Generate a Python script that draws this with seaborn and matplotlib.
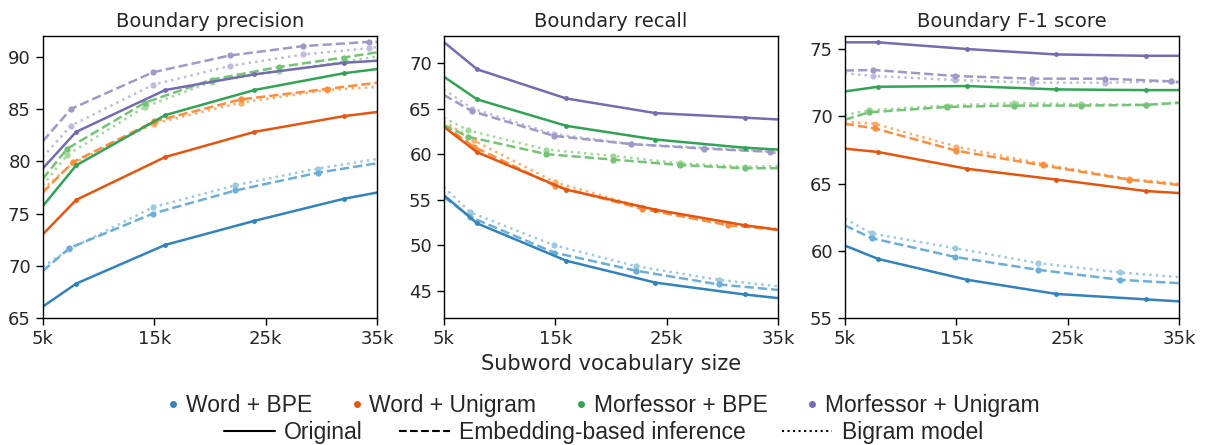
"""Boundary precision / recall / F-1 versus subword vocabulary size."""

import matplotlib
matplotlib.use("Agg")
import matplotlib.pyplot as plt
from matplotlib.lines import Line2D
from matplotlib.ticker import FuncFormatter
import seaborn as sns

sns.set_theme(style="ticks")
plt.rcParams["font.family"] = ["DejaVu Sans"]

# Vocabulary sizes (thousands); first/last entries sit on the axis edges
X_ORIG = [5, 8, 16, 24, 32, 35]
X_WORD_BPE = [5, 7.4, 14.9, 22.3, 29.7, 35]
X_WORD_UNI = [5, 7.7, 15.0, 22.8, 30.5, 35]
X_MORF_BPE = [5, 7.2, 14.2, 20.2, 26.2, 32.0, 35]
X_MORF_UNI = [5, 7.55, 14.9, 21.8, 28.4, 34.3, 35]

TOKENIZERS = ["Word + BPE", "Word + Unigram", "Morfessor + BPE", "Morfessor + Unigram"]
VARIANTS = ["Original", "Embedding-based inference", "Bigram model"]
PANEL_TITLES = ["Boundary precision", "Boundary recall", "Boundary F-1 score"]
Y_LIMITS = [(65, 92), (42, 73), (55, 76)]
X_TICKS = [5, 15, 25, 35]

# Boundary precision
PREC_WB_ORIG = [66.1, 68.3, 72.0, 74.3, 76.4, 77.0]
PREC_WB_EMB = [69.5, 71.7, 75.0, 77.2, 78.9, 79.8]
PREC_WB_BIG = [69.9, 71.6, 75.6, 77.7, 79.3, 80.2]
PREC_WU_ORIG = [73.0, 76.3, 80.4, 82.8, 84.3, 84.7]
PREC_WU_EMB = [77.0, 79.9, 83.8, 85.9, 86.9, 87.5]
PREC_WU_BIG = [77.3, 79.8, 83.6, 85.6, 86.8, 87.1]
PREC_MB_ORIG = [75.7, 79.6, 84.4, 86.8, 88.4, 88.8]
PREC_MB_EMB = [78.3, 81.2, 85.6, 87.8, 89.0, 89.9, 90.4]
PREC_MB_BIG = [77.7, 80.6, 85.2, 87.6, 88.6, 89.5, 90.0]
PREC_MU_ORIG = [79.3, 82.8, 86.8, 88.3, 89.4, 89.6]
PREC_MU_EMB = [81.9, 85.0, 88.5, 90.1, 91.0, 91.4, 91.4]
PREC_MU_BIG = [80.4, 83.4, 87.3, 89.1, 90.2, 90.8, 90.9]

# Boundary recall
REC_WB_ORIG = [55.5, 52.4, 48.3, 45.9, 44.6, 44.2]
REC_WB_EMB = [55.3, 53.1, 49.2, 47.2, 45.7, 45.1]
REC_WB_BIG = [56.4, 53.6, 50.0, 47.7, 46.2, 45.5]
REC_WU_ORIG = [63.0, 60.2, 56.1, 53.9, 52.2, 51.7]
REC_WU_EMB = [63.2, 60.8, 56.5, 54.0, 52.2, 51.7]
REC_WU_BIG = [63.6, 61.5, 56.9, 54.2, 52.3, 51.8]
REC_MB_ORIG = [68.5, 66.0, 63.1, 61.6, 60.7, 60.5]
REC_MB_EMB = [63.2, 61.9, 60.0, 59.4, 58.8, 58.45, 58.45]
REC_MB_BIG = [64.0, 62.6, 60.5, 59.8, 59.0, 58.6, 58.7]
REC_MU_ORIG = [72.3, 69.3, 66.1, 64.5, 64.0, 63.8]
REC_MU_EMB = [66.5, 64.7, 62.0, 61.1, 60.6, 60.25, 60.1]
REC_MU_BIG = [67.1, 65.0, 62.2, 61.1, 60.7, 60.3, 60.2]

# Boundary F-1
F1_WB_ORIG = [60.4, 59.4, 57.85, 56.8, 56.4, 56.25]
F1_WB_EMB = [61.9, 60.95, 59.55, 58.6, 57.85, 57.6]
F1_WB_BIG = [62.4, 61.3, 60.2, 59.1, 58.4, 58.05]
F1_WU_ORIG = [67.6, 67.35, 66.1, 65.3, 64.45, 64.3]
F1_WU_EMB = [69.45, 69.1, 67.45, 66.35, 65.3, 64.9]
F1_WU_BIG = [69.6, 69.45, 67.75, 66.45, 65.35, 65.0]
F1_MB_ORIG = [71.85, 72.2, 72.25, 72.0, 71.95, 71.95]
F1_MB_EMB = [69.75, 70.3, 70.7, 70.8, 70.8, 70.85, 71.0]
F1_MB_BIG = [70.1, 70.45, 70.8, 71.0, 70.9, 70.85, 71.05]
F1_MU_ORIG = [75.5, 75.5, 75.0, 74.6, 74.5, 74.5]
F1_MU_EMB = [73.4, 73.45, 73.0, 72.8, 72.8, 72.6, 72.55]
F1_MU_BIG = [73.2, 73.0, 72.7, 72.5, 72.5, 72.6, 72.5]

# tab20c shades: dark = original, mid = embedding, light = bigram
SHADES = {
    "Word + BPE": ["#3182bd", "#6baed6", "#9ecae1"],
    "Word + Unigram": ["#e6550d", "#fd8d3c", "#fdae6b"],
    "Morfessor + BPE": ["#31a354", "#74c476", "#a1d99b"],
    "Morfessor + Unigram": ["#756bb1", "#9e9ac8", "#bcbddc"],
}
LINESTYLES = ["-", "--", ":"]
VARIANT_X = {
    "Word + BPE": X_WORD_BPE,
    "Word + Unigram": X_WORD_UNI,
    "Morfessor + BPE": X_MORF_BPE,
    "Morfessor + Unigram": X_MORF_UNI,
}

PANELS = [
    {
        "Word + BPE": [PREC_WB_ORIG, PREC_WB_EMB, PREC_WB_BIG],
        "Word + Unigram": [PREC_WU_ORIG, PREC_WU_EMB, PREC_WU_BIG],
        "Morfessor + BPE": [PREC_MB_ORIG, PREC_MB_EMB, PREC_MB_BIG],
        "Morfessor + Unigram": [PREC_MU_ORIG, PREC_MU_EMB, PREC_MU_BIG],
    },
    {
        "Word + BPE": [REC_WB_ORIG, REC_WB_EMB, REC_WB_BIG],
        "Word + Unigram": [REC_WU_ORIG, REC_WU_EMB, REC_WU_BIG],
        "Morfessor + BPE": [REC_MB_ORIG, REC_MB_EMB, REC_MB_BIG],
        "Morfessor + Unigram": [REC_MU_ORIG, REC_MU_EMB, REC_MU_BIG],
    },
    {
        "Word + BPE": [F1_WB_ORIG, F1_WB_EMB, F1_WB_BIG],
        "Word + Unigram": [F1_WU_ORIG, F1_WU_EMB, F1_WU_BIG],
        "Morfessor + BPE": [F1_MB_ORIG, F1_MB_EMB, F1_MB_BIG],
        "Morfessor + Unigram": [F1_MU_ORIG, F1_MU_EMB, F1_MU_BIG],
    },
]

fig, axes = plt.subplots(1, 3, figsize=(12.07, 4.45), dpi=100)
fig.subplots_adjust(left=0.0354, right=0.9768, bottom=0.285, top=0.92, wspace=0.2)

for ax, panel, title, ylim in zip(axes, PANELS, PANEL_TITLES, Y_LIMITS):
    # light variants first so the original lines sit on top
    for vi in (2, 1, 0):
        for tok in TOKENIZERS:
            xs = X_ORIG if vi == 0 else VARIANT_X[tok]
            ys = panel[tok][vi]
            sns.lineplot(
                x=xs, y=ys, ax=ax, sort=False, estimator=None,
                color=SHADES[tok][vi], linestyle=LINESTYLES[vi], linewidth=1.8,
                marker="o", markersize=3.5 if vi == 0 else 4.5, markeredgewidth=0,
                markevery=list(range(1, len(xs) - 1)),
            )
    ax.set_xlim(5, 35)
    ax.set_ylim(*ylim)
    ax.set_xticks(X_TICKS)
    ax.xaxis.set_major_formatter(FuncFormatter(lambda v, _: f"{v:.0f}k"))
    ax.tick_params(labelsize=13, length=5, width=1, color="black")
    ax.set_title(title, fontsize=14, pad=6)
    for s in ax.spines.values():
        s.set_color("black")
        s.set_linewidth(1.0)

axes[1].set_xlabel("Subword vocabulary size", fontsize=15, labelpad=4)

legend_font = {"family": ["Liberation Sans Narrow", "Liberation Sans", "DejaVu Sans"], "size": 16.5}

tok_handles = [Line2D([], [], linestyle="", marker="o", markersize=5, markeredgewidth=0,
                      color=SHADES[t][0]) for t in TOKENIZERS]
fig.legend(tok_handles, TOKENIZERS, loc="center", bbox_to_anchor=(0.5, 0.088),
           ncol=4, frameon=False, prop=legend_font, handlelength=0.5,
           handletextpad=0.3, columnspacing=1.7, borderaxespad=0, borderpad=0)
style_handles = [Line2D([], [], color="black", linestyle=ls, linewidth=1.5) for ls in LINESTYLES]
fig.legend(style_handles, VARIANTS, loc="center", bbox_to_anchor=(0.5, 0.028),
           ncol=3, frameon=False, prop=legend_font, handlelength=2.2,
           handletextpad=0.4, columnspacing=1.6, borderaxespad=0, borderpad=0)

fig.savefig("out.png", dpi=100)
plt.close(fig)
